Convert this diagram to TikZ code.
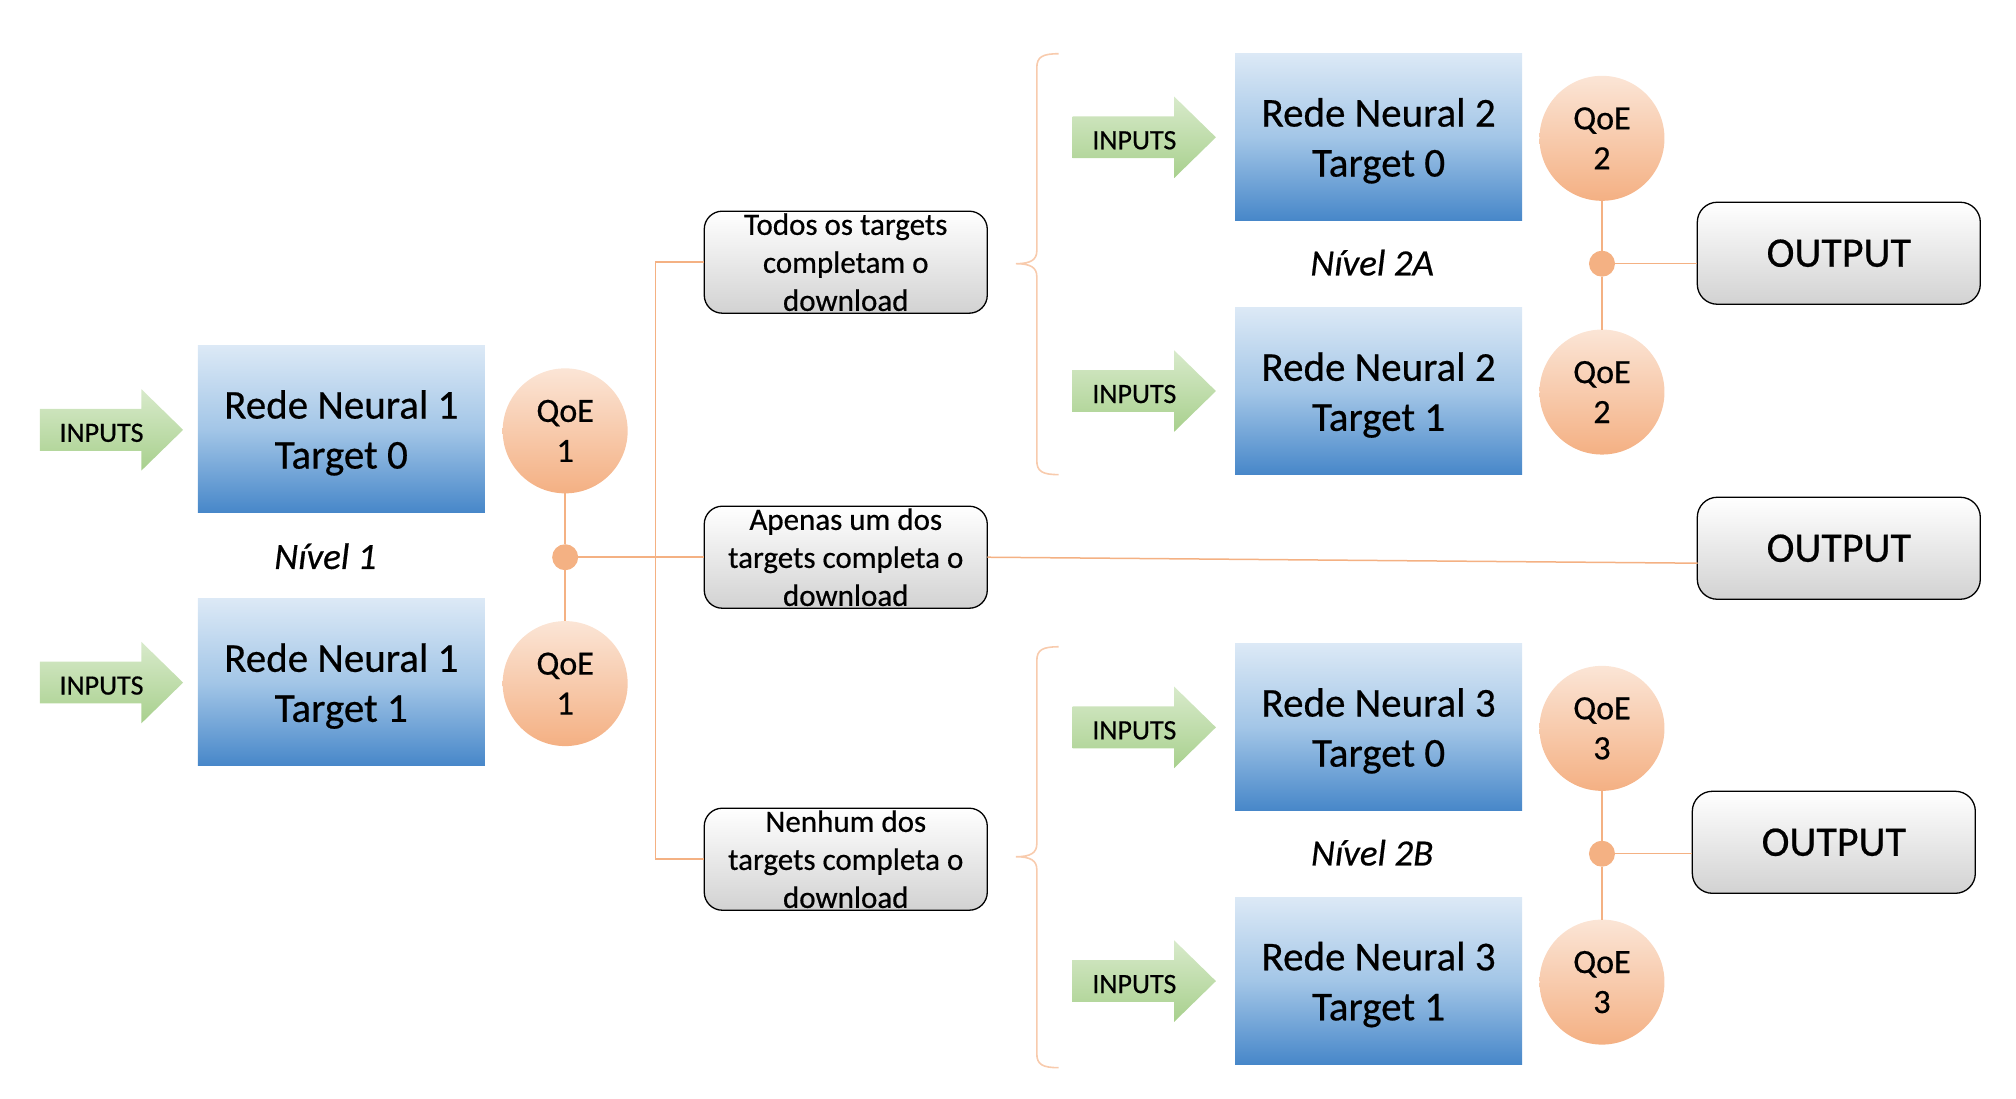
\documentclass[tikz,border=0pt]{standalone}
\usepackage{fontspec}
\setmainfont{Carlito}[FakeBold=0.5]
\definecolor{blTop}{HTML}{DCE9F6}
\definecolor{blMid}{HTML}{A3C6E7}
\definecolor{blBot}{HTML}{4787C9}
\definecolor{qTop}{HTML}{FBE5D6}
\definecolor{qBot}{HTML}{F4B083}
\definecolor{arTop}{HTML}{D8EACB}
\definecolor{arBot}{HTML}{A8D08D}
\definecolor{grBot}{HTML}{D2D2D2}
\definecolor{lnC}{HTML}{F4B183}
\definecolor{dotC}{HTML}{F4B183}
\definecolor{brC}{HTML}{F8CBAD}
\newcommand\inputarrow[3]{%
  \shade[top color=arTop, bottom color=arBot]
    (#2,#3-21) -- (#2+102,#3-21) -- (#2+102,#3-41) -- (#2+144,#3)
    -- (#2+102,#3+41) -- (#2+102,#3+21) -- (#2,#3+21) -- cycle;
  \node[font=\fontsize{28}{34}\selectfont, inner sep=0pt] (#1) at (#2+62,#3+3) {INPUTS};}
\begin{document}
\begin{tikzpicture}[x=0.995pt,y=-0.995pt,
  nnbox/.style={inner sep=0pt, outer sep=0pt, minimum width=287pt, minimum height=167pt,
    top color=blTop, bottom color=blBot, middle color=blMid},
  nntext/.style={align=center, inner sep=0pt, yshift=-4pt,
    font=\fontsize{41}{50}\selectfont},
  qoe/.style={circle, inner sep=0pt, outer sep=0pt, minimum size=125pt,
    top color=qTop, bottom color=qBot, align=center, font=\fontsize{34}{40}\selectfont},
  dotn/.style={circle, fill=dotC, minimum size=26pt, inner sep=0pt, outer sep=0pt},
  condbox/.style={draw=black, line width=1.3pt, rounded corners=18pt, top color=white,
    bottom color=grBot, minimum width=283pt, minimum height=102pt, inner sep=0pt, outer sep=0pt},
  condtext/.style={align=center, font=\fontsize{31}{38}\selectfont, inner sep=0pt},
  outbox/.style={draw=black, line width=1.3pt, rounded corners=20pt, top color=white,
    bottom color=grBot, minimum width=283pt, minimum height=102pt,
    font=\fontsize{42}{50}\selectfont, inner sep=0pt, outer sep=0pt},
  link/.style={draw=lnC, line width=1.5pt},
  bracel/.style={draw=brC, line width=1.6pt},
  nivel/.style={font=\fontsize{37}{44}\selectfont\itshape, inner sep=0pt}]
\useasboundingbox (0,0) rectangle (2026.1,1103.5);

% ---- Level 1
\inputarrow{in1a}{40}{432}
\inputarrow{in1b}{40}{686}
\node[nnbox] (rn1a) at (343,431) {};
\node[nntext] (rn1aT) at (rn1a.center) {Rede Neural 1\\Target 0};
\node[nnbox] (rn1b) at (343,685.5) {};
\node[nntext] (rn1bT) at (rn1b.center) {Rede Neural 1\\Target 1};
\node[qoe] (q1a) at (568,433) {QoE\\1};
\node[qoe] (q1b) at (568,687) {QoE\\1};
\node[dotn] (d1) at (568,560) {};
\node[nivel] (niv1) at (327,559) {Nível 1};

% ---- Conditions
\node[condbox] (todos) at (850,263.5) {};
\node[condtext] (todosT) at (todos.center) {Todos os targets\\completam o\\download};
\node[condbox] (apenas) at (850,560) {};
\node[condtext] (apenasT) at (apenas.center) {Apenas um dos\\targets completa o\\download};
\node[condbox] (nenhum) at (850,863.5) {};
\node[condtext] (nenhumT) at (nenhum.center) {Nenhum dos\\targets completa o\\download};
\coordinate (vx) at (659,0);

% ---- Level 2A
\inputarrow{in2a}{1078}{138}
\inputarrow{in2b}{1078}{393}
\node[nnbox] (rn2a) at (1385.5,137.5) {};
\node[nntext] (rn2aT) at (rn2a.center) {Rede Neural 2\\Target 0};
\node[nnbox] (rn2b) at (1385.5,393) {};
\node[nntext] (rn2bT) at (rn2b.center) {Rede Neural 2\\Target 1};
\node[qoe] (q2a) at (1610,139) {QoE\\2};
\node[qoe] (q2b) at (1610,394) {QoE\\2};
\node[dotn] (d2) at (1610,265) {};
\node[nivel] (niv2a) at (1379,264) {Nível 2A};

% ---- Level 2B
\inputarrow{in3a}{1078}{731}
\inputarrow{in3b}{1078}{986}
\node[nnbox] (rn3a) at (1385.5,730.5) {};
\node[nntext] (rn3aT) at (rn3a.center) {Rede Neural 3\\Target 0};
\node[nnbox] (rn3b) at (1385.5,985.5) {};
\node[nntext] (rn3bT) at (rn3b.center) {Rede Neural 3\\Target 1};
\node[qoe] (q3a) at (1610,732) {QoE\\3};
\node[qoe] (q3b) at (1610,987) {QoE\\3};
\node[dotn] (d3) at (1610,858) {};
\node[nivel] (niv2b) at (1379,857) {Nível 2B};

% ---- Outputs
\node[outbox] (o1) at (1848,254.5) {OUTPUT};
\node[outbox] (o2) at (1848,551) {OUTPUT};
\node[outbox] (o3) at (1843,846.5) {OUTPUT};
\coordinate (o2in) at (1706,566);

% ---- Connectors
\draw[link] (q1a) -- (d1) -- (q1b);
\draw[link] (d1) -- (apenas.west);
\draw[link] (todos.west) -- (todos.west -| vx) -- (nenhum.west -| vx) -- (nenhum.west);
\draw[link] (apenas.east) -- (o2in);
\draw[link] (q2a) -- (d2) -- (q2b);
\draw[link] (d2) -- (d2 -| o1.west);
\draw[link] (q3a) -- (d3) -- (q3b);
\draw[link] (d3) -- (d3 -| o3.west);

% ---- Braces
\draw[bracel] (1064,54) .. controls (1048,54) and (1042,57) .. (1042,68) -- (1042,252)
  .. controls (1042,261) and (1036,265) .. (1021,265)
  .. controls (1036,265) and (1042,269) .. (1042,278) -- (1042,463)
  .. controls (1042,474) and (1048,477) .. (1064,477);
\draw[bracel] (1064,650) .. controls (1048,650) and (1042,653) .. (1042,664) -- (1042,848)
  .. controls (1042,857) and (1036,861) .. (1021,861)
  .. controls (1036,861) and (1042,865) .. (1042,874) -- (1042,1059)
  .. controls (1042,1070) and (1048,1073) .. (1064,1073);
\end{tikzpicture}
\end{document}
